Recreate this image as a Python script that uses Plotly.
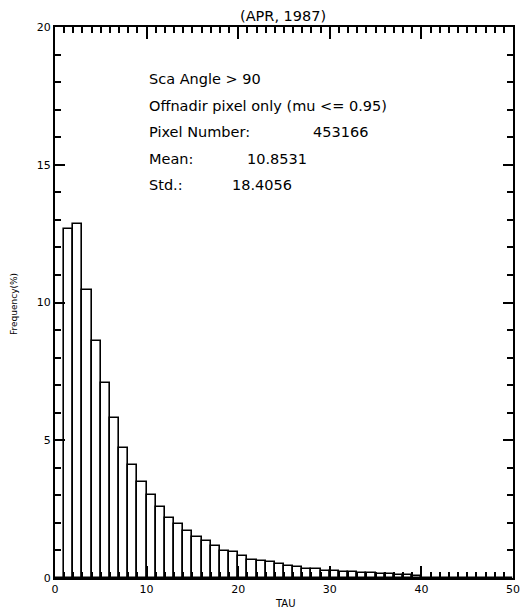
import plotly.graph_objects as go

# Histogram of TAU (bin width 1), frequency in percent
bin_left = list(range(0, 50))
freq_pct = [0.0, 12.65, 12.85, 10.47, 8.59, 7.08, 5.81, 4.73, 4.10, 3.48,
            3.03, 2.57, 2.17, 1.96, 1.72, 1.49, 1.33, 1.15, 0.99, 0.93,
            0.79, 0.67, 0.63, 0.57, 0.50, 0.45, 0.39, 0.34, 0.33, 0.27,
            0.26, 0.22, 0.21, 0.18, 0.17, 0.14, 0.13, 0.12, 0.10, 0.09,
            0.0, 0.0, 0.0, 0.0, 0.0, 0.0, 0.0, 0.0, 0.0, 0.0]

title_text = "(APR, 1987)"
x_title = "TAU"
y_title = "Frequency(%)"
info_labels = ["Sca Angle > 90", "Offnadir pixel only (mu <= 0.95)",
               "Pixel Number:", "Mean:", "Std.:"]
info_values = ["", "", "453166", "10.8531", "18.4056"]
info_y = [18.1, 17.15, 16.2, 15.2, 14.25]
info_value_x = [None, None, 28.0, 20.7, 19.1]

x_centers = [b + 0.5 for b in bin_left]

FONT = "DejaVu Sans"
W, H = 523, 612
ML, MR, MT, MB = 55, 10, 27, 34
PW, PH = W - ML - MR, H - MT - MB

fig = go.Figure()
fig.add_trace(go.Bar(
    x=x_centers, y=freq_pct, width=1.0,
    marker=dict(color="white", line=dict(color="black", width=1.6)),
    showlegend=False, hoverinfo="skip",
))

for lab, yy in zip(info_labels, info_y):
    fig.add_annotation(x=10.0, y=yy, xref="x", yref="y", text=lab,
                       showarrow=False, xanchor="left", yanchor="middle",
                       font=dict(family=FONT, size=14.5, color="black"))
for val, xx, yy in zip(info_values, info_value_x, info_y):
    if val:
        fig.add_annotation(x=xx, y=yy, xref="x", yref="y", text=val,
                           showarrow=False, xanchor="left", yanchor="middle",
                           font=dict(family=FONT, size=14.5, color="black"))

# title and axis titles placed in paper coordinates
fig.add_annotation(x=(283 - ML) / PW, y=(H - MB - 16) / PH, xref="paper", yref="paper",
                   text=title_text, showarrow=False, xanchor="center", yanchor="middle",
                   font=dict(family=FONT, size=14.5, color="black"))
fig.add_annotation(x=(285 - ML) / PW, y=(H - MB - 603) / PH, xref="paper", yref="paper",
                   text=x_title, showarrow=False, xanchor="center", yanchor="middle",
                   font=dict(family=FONT, size=10, color="black"))
fig.add_annotation(x=(14 - ML) / PW, y=(H - MB - 304) / PH, xref="paper", yref="paper",
                   text=y_title, showarrow=False, textangle=-90,
                   xanchor="center", yanchor="middle",
                   font=dict(family=FONT, size=9, color="black"))

fig.update_layout(
    width=W, height=H,
    margin=dict(l=ML, r=MR, t=MT, b=MB, autoexpand=False),
    paper_bgcolor="white", plot_bgcolor="white",
    bargap=0,
    font=dict(family=FONT, color="black"),
)

axis_common = dict(
    showline=True, linecolor="black", linewidth=2, mirror="ticks",
    ticks="inside", tickcolor="black", tickwidth=1.5,
    showgrid=False, zeroline=False, automargin=False,
    tickfont=dict(family=FONT, size=11, color="black"),
)
fig.update_xaxes(range=[0, 50], dtick=10, tick0=0, ticklen=12,
                 minor=dict(ticks="inside", dtick=1, ticklen=6,
                            tickcolor="black", tickwidth=1.5),
                 **axis_common)
fig.update_yaxes(range=[0, 20], dtick=5, tick0=0, ticklen=10,
                 minor=dict(ticks="inside", dtick=1, ticklen=6,
                            tickcolor="black", tickwidth=1.5),
                 **axis_common)

fig.write_html(
    "out.html",
    config={"displayModeBar": False},
    post_script="document.body.style.margin='0';document.body.style.overflow='hidden';",
)
